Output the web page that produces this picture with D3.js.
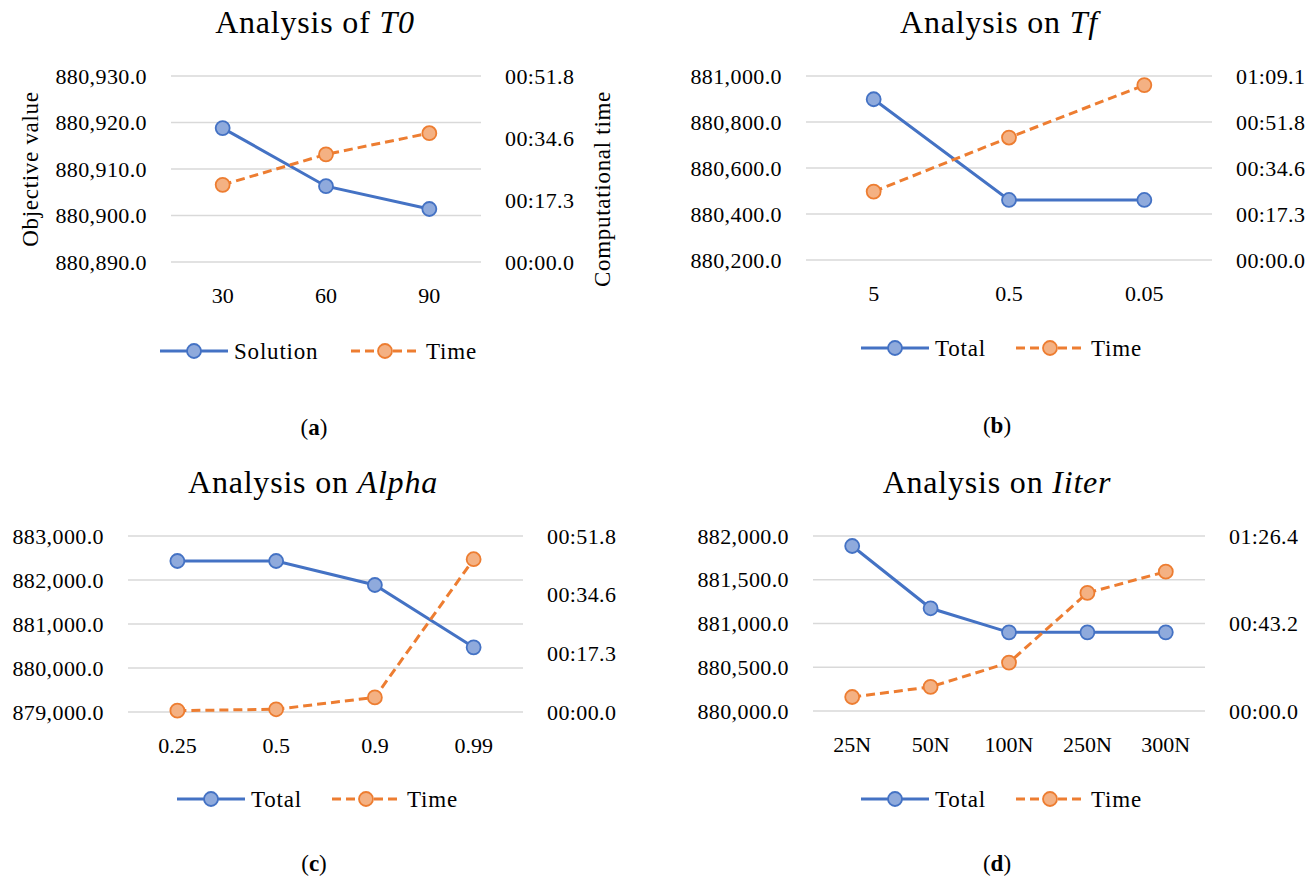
<!DOCTYPE html>
<html><head><meta charset="utf-8"><script src="https://cdn.jsdelivr.net/npm/d3@7"></script></head>
<body style="margin:0">
<svg id="s" width="1311" height="879"></svg>
<script>
// ---- data (time in seconds) ----
var t0Cats = ["30", "60", "90"];
var t0Solution = [880918.8, 880906.3, 880901.4];
var t0Time = [21.5, 30.0, 35.9];
var t0LeftTicks = [880890, 880900, 880910, 880920, 880930];
var t0RightTicks = [0, 17.28, 34.56, 51.84];

var tfCats = ["5", "0.5", "0.05"];
var tfTotal = [880899, 880461, 880461];
var tfTime = [25.7, 46.0, 65.7];
var tfLeftTicks = [880200, 880400, 880600, 880800, 881000];
var tfRightTicks = [0, 17.28, 34.56, 51.84, 69.12];

var alphaCats = ["0.25", "0.5", "0.9", "0.99"];
var alphaTotal = [882432, 882432, 881886, 880470];
var alphaTime = [0.4, 0.8, 4.3, 45.0];
var alphaLeftTicks = [879000, 880000, 881000, 882000, 883000];
var alphaRightTicks = [0, 17.28, 34.56, 51.84];

var iterCats = ["25N", "50N", "100N", "250N", "300N"];
var iterTotal = [881886, 881174, 880899, 880899, 880899];
var iterTime = [6.9, 11.9, 23.9, 58.3, 68.8];
var iterLeftTicks = [880000, 880500, 881000, 881500, 882000];
var iterRightTicks = [0, 43.2, 86.4];

var blue = "#4472c4", blueFill = "#8faadc";
var orange = "#ed7d31", orangeFill = "#f4b183";
var grid = "#d9d9d9";

var svg = d3.select("#s");
var fmtLeft = d3.format(",.1f");

// 00:17.3 style labels
function fmtTime(s) {
  var m = Math.floor(s / 60 + 1e-9);
  var r = (s - m * 60).toFixed(1);
  if (r.length < 4) r = "0" + r;
  return (m < 10 ? "0" : "") + m + ":" + r;
}

function txt(sel, size) {
  return sel.style("font-family", "'Liberation Serif'").style("font-size", size + "px").attr("fill", "#000");
}

function drawPanel(p) {
  var g = svg.append("g");

  var x = d3.scalePoint().domain(p.cats).range([p.x0, p.x1]).padding(0.5);
  var yL = d3.scaleLinear().domain(d3.extent(p.leftTicks)).range([p.y1, p.y0]);
  var yR = d3.scaleLinear().domain(d3.extent(p.rightTicks)).range([p.y1, p.y0]);

  // title
  var title = txt(g.append("text"), 32)
    .attr("x", p.titleX).attr("y", p.titleY)
    .attr("text-anchor", "middle")
    .style("letter-spacing", "0.8px");
  title.append("tspan").text(p.title + " ");
  title.append("tspan").style("font-style", "italic").text(p.titleIt);

  // gridlines
  g.selectAll(".grid").data(p.leftTicks).enter().append("line")
    .attr("x1", p.x0).attr("x2", p.x1)
    .attr("y1", function(d) { return yL(d); })
    .attr("y2", function(d) { return yL(d); })
    .attr("stroke", grid).attr("stroke-width", 1.5);

  // left axis labels
  txt(g.selectAll(".lt").data(p.leftTicks).enter().append("text"), 22)
    .attr("x", p.x0 - 24)
    .attr("y", function(d) { return yL(d); })
    .attr("dy", "0.35em")
    .attr("text-anchor", "end")
    .style("letter-spacing", "0.4px")
    .text(fmtLeft);

  // right axis labels
  txt(g.selectAll(".rt").data(p.rightTicks).enter().append("text"), 22)
    .attr("x", p.x1 + 24)
    .attr("y", function(d) { return yR(d); })
    .attr("dy", "0.35em")
    .attr("text-anchor", "start")
    .style("letter-spacing", "0.4px")
    .text(fmtTime);

  // category labels
  txt(g.selectAll(".xt").data(p.cats).enter().append("text"), 22)
    .attr("x", function(d) { return x(d); })
    .attr("y", p.y1 + 33)
    .attr("dy", "0.35em")
    .attr("text-anchor", "middle")
    .text(function(d) { return d; });

  if (p.leftTitle) {
    txt(g.append("text"), 23)
      .attr("transform", "translate(" + p.leftTitleX + "," + ((p.y0 + p.y1) / 2) + ") rotate(-90)")
      .attr("dy", "0.35em").attr("text-anchor", "middle")
      .style("letter-spacing", "0.7px")
      .text(p.leftTitle);
  }
  if (p.rightTitle) {
    txt(g.append("text"), 23)
      .attr("transform", "translate(" + p.rightTitleX + "," + ((p.y0 + p.y1) / 2 + 20) + ") rotate(-90)")
      .attr("dy", "0.35em").attr("text-anchor", "middle")
      .style("letter-spacing", "0.7px")
      .text(p.rightTitle);
  }

  var lineL = d3.line().x(function(d, i) { return x(p.cats[i]); }).y(function(d) { return yL(d); });
  var lineR = d3.line().x(function(d, i) { return x(p.cats[i]); }).y(function(d) { return yR(d); });

  g.append("path").datum(p.total).attr("d", lineL)
    .attr("fill", "none").attr("stroke", blue).attr("stroke-width", 3);
  g.append("path").datum(p.time).attr("d", lineR)
    .attr("fill", "none").attr("stroke", orange).attr("stroke-width", 3)
    .attr("stroke-dasharray", "9,5");

  g.selectAll(".mt").data(p.total).enter().append("circle")
    .attr("cx", function(d, i) { return x(p.cats[i]); })
    .attr("cy", function(d) { return yL(d); })
    .attr("r", 7).attr("fill", blueFill).attr("stroke", blue).attr("stroke-width", 1.8);
  g.selectAll(".mr").data(p.time).enter().append("circle")
    .attr("cx", function(d, i) { return x(p.cats[i]); })
    .attr("cy", function(d) { return yR(d); })
    .attr("r", 7).attr("fill", orangeFill).attr("stroke", orange).attr("stroke-width", 1.8);

  // legend
  var lx = p.legendX, ly = p.legendY;
  g.append("line").attr("x1", lx).attr("x2", lx + 68).attr("y1", ly).attr("y2", ly)
    .attr("stroke", blue).attr("stroke-width", 3);
  g.append("circle").attr("cx", lx + 34).attr("cy", ly).attr("r", 7)
    .attr("fill", blueFill).attr("stroke", blue).attr("stroke-width", 1.8);
  txt(g.append("text"), 23).attr("x", lx + 74).attr("y", ly).attr("dy", "0.35em")
    .style("letter-spacing", "0.8px")
    .text(p.totalName);
  var ox = p.legend2X;
  g.append("line").attr("x1", ox).attr("x2", ox + 68).attr("y1", ly).attr("y2", ly)
    .attr("stroke", orange).attr("stroke-width", 3).attr("stroke-dasharray", "9,5");
  g.append("circle").attr("cx", ox + 34).attr("cy", ly).attr("r", 7)
    .attr("fill", orangeFill).attr("stroke", orange).attr("stroke-width", 1.8);
  txt(g.append("text"), 23).attr("x", ox + 75).attr("y", ly).attr("dy", "0.35em")
    .style("letter-spacing", "0.8px")
    .text("Time");

  // caption
  var cap = txt(g.append("text"), 23).attr("x", p.capX).attr("y", p.capY).attr("dy", "0.35em")
    .attr("text-anchor", "middle");
  cap.append("tspan").text("(");
  cap.append("tspan").style("font-weight", "bold").text(p.cap);
  cap.append("tspan").text(")");
}

drawPanel({
  cats: t0Cats, total: t0Solution, time: t0Time,
  leftTicks: t0LeftTicks, rightTicks: t0RightTicks,
  title: "Analysis of", titleIt: "T0", titleX: 315, titleY: 33,
  x0: 171, x1: 481, y0: 76, y1: 262,
  leftTitle: "Objective value", leftTitleX: 30,
  rightTitle: "Computational time", rightTitleX: 602,
  totalName: "Solution", legendX: 160, legendY: 351, legend2X: 351,
  cap: "a", capX: 314, capY: 427
});
drawPanel({
  cats: tfCats, total: tfTotal, time: tfTime,
  leftTicks: tfLeftTicks, rightTicks: tfRightTicks,
  title: "Analysis on", titleIt: "Tf", titleX: 999, titleY: 33,
  x0: 806, x1: 1212, y0: 76, y1: 260,
  totalName: "Total", legendX: 861, legendY: 348, legend2X: 1016,
  cap: "b", capX: 997, capY: 425
});
drawPanel({
  cats: alphaCats, total: alphaTotal, time: alphaTime,
  leftTicks: alphaLeftTicks, rightTicks: alphaRightTicks,
  title: "Analysis on", titleIt: "Alpha", titleX: 313, titleY: 493,
  x0: 128, x1: 523, y0: 536, y1: 712,
  totalName: "Total", legendX: 177, legendY: 799, legend2X: 332,
  cap: "c", capX: 314, capY: 863
});
drawPanel({
  cats: iterCats, total: iterTotal, time: iterTime,
  leftTicks: iterLeftTicks, rightTicks: iterRightTicks,
  title: "Analysis on", titleIt: "Iiter", titleX: 997, titleY: 493,
  x0: 813, x1: 1205, y0: 536, y1: 711,
  totalName: "Total", legendX: 861, legendY: 799, legend2X: 1016,
  cap: "d", capX: 997, capY: 863
});
</script></body></html>
